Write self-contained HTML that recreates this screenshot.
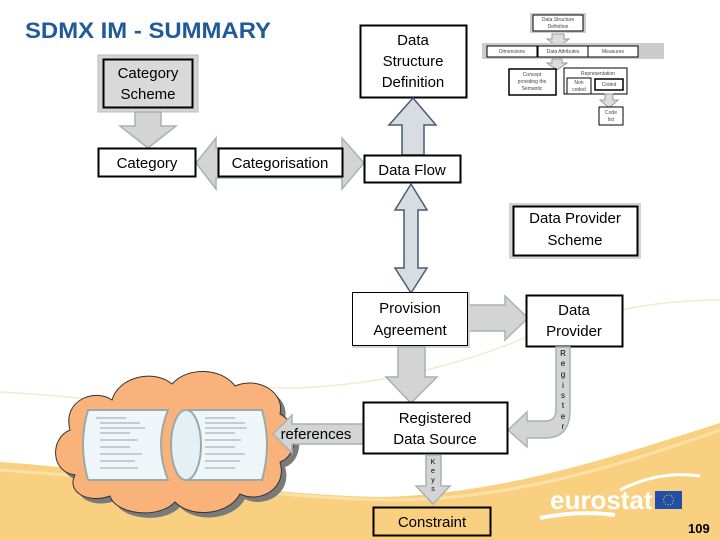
<!DOCTYPE html>
<html><head><meta charset="utf-8"><style>
body{margin:0;width:720px;height:540px;overflow:hidden;background:#fff}
svg{display:block}
text{font-family:"Liberation Sans","DejaVu Sans",sans-serif}
</style></head><body>
<svg width="720" height="540" viewBox="0 0 720 540">
<path d="M0,462 C120,470 260,495 380,497 C500,495 620,455 720,423 L720,540 L0,540 Z" fill="#f9cf80"/>
<path d="M0,470 C150,480 300,500 400,500 C520,498 630,462 720,430" fill="none" stroke="#fbe0a8" stroke-width="3"/>
<path d="M200,380 C300,400 420,380 520,340 C600,310 660,300 720,300" fill="none" stroke="#f5ead0" stroke-width="1.5"/>
<path d="M0,392 C150,400 300,430 420,450" fill="none" stroke="#f5ead0" stroke-width="1.5"/>

<text x="25" y="38" font-size="22" font-weight="bold" fill="#1f5a99" textLength="246" lengthAdjust="spacingAndGlyphs">SDMX IM - SUMMARY</text>

<rect x="360.5" y="25.5" width="106" height="72" fill="#fff" stroke="#000" stroke-width="2"/>
<text font-size="15" text-anchor="middle" fill="#000"><tspan x="413" y="45">Data</tspan><tspan x="413" y="66">Structure</tspan><tspan x="413" y="87">Definition</tspan></text>

<g font-size="5" fill="#444" text-anchor="middle">
<rect x="530" y="13" width="56" height="20" fill="#ccc"/><rect x="533" y="15" width="50" height="16" fill="#fff" stroke="#000"/>
<text x="558" y="21">Data Structure</text><text x="558" y="28">Definition</text>
<path d="M552,34 h12 v5 h5 l-11,8 -11,-8 h5z" fill="#ddd" stroke="#999"/>
<rect x="482" y="43" width="182" height="16" fill="#ccc"/>
<rect x="487" y="46" width="50" height="11" fill="#fff" stroke="#000"/><text x="512" y="53">Dimensions</text>
<rect x="538" y="46" width="50" height="11" fill="#fff" stroke="#000"/><text x="563" y="53">Data Attributes</text>
<rect x="588" y="46" width="50" height="11" fill="#fff" stroke="#000"/><text x="613" y="53">Measures</text>
<path d="M552,59 h10 v4 h5 l-10,7 -10,-7 h5z" fill="#ddd" stroke="#999"/>
<rect x="509" y="69" width="47" height="26" fill="#fff" stroke="#000" stroke-width="1.5"/>
<text x="532" y="76">Concept</text><text x="532" y="83">providing the</text><text x="532" y="90">Semantic</text>
<rect x="564" y="68" width="63" height="26" fill="#fff" stroke="#000"/>
<text x="598" y="75">Representation</text>
<rect x="567" y="78" width="24" height="16" fill="#fff" stroke="#000"/><text x="579" y="84">Non</text><text x="579" y="91">coded</text>
<rect x="595" y="79" width="28" height="11" fill="#fff" stroke="#000" stroke-width="1.5"/><text x="609" y="86">Coded</text>
<path d="M605,94 h8 v6 h5 l-9,8 -9,-8 h5z" fill="#ddd" stroke="#999"/>
<rect x="599" y="107" width="24" height="18" fill="#fff" stroke="#000"/><text x="611" y="114">Code</text><text x="611" y="121">list</text>
</g>

<rect x="98" y="55" width="100" height="57" fill="#d4d4d4" stroke="#bbb"/>
<rect x="103.5" y="59.5" width="89" height="48" fill="#d9d9d9" stroke="#000" stroke-width="2"/>
<text font-size="15" text-anchor="middle"><tspan x="148" y="78">Category</tspan><tspan x="148" y="99">Scheme</tspan></text>
<path d="M135,112 h26 v14 h15 l-28,22 -28,-22 h15z" fill="#d4d4d4" stroke="#a8b2b2" stroke-width="1.5"/>

<path d="M196,163 L216,138 V148 H342 V138 L364,163 L342,189 V178 H216 V189 Z" fill="#d4d4d4" stroke="#a8b2b2" stroke-width="1.5"/>
<rect x="98.5" y="148.5" width="97" height="28" fill="#fff" stroke="#000" stroke-width="2"/>
<text x="147" y="168" font-size="15" text-anchor="middle">Category</text>
<rect x="218.5" y="148.5" width="124" height="28" fill="#fff" stroke="#000" stroke-width="2"/>
<text x="280" y="168" font-size="15" text-anchor="middle">Categorisation</text>

<path d="M402,155 V125 H389 L413,98 L436,125 H424 V155 Z" fill="#d8dde2" stroke="#4a5a78" stroke-width="1.5"/>
<rect x="364.5" y="155.5" width="96" height="27" fill="#fff" stroke="#000" stroke-width="2"/>
<text x="412" y="175" font-size="15" text-anchor="middle">Data Flow</text>

<path d="M411,184 L427,210 H418 V268 H427 L411,293 L395,268 H404 V210 H395 Z" fill="#d8dde2" stroke="#4a5a78" stroke-width="1.5"/>

<rect x="509" y="203" width="132" height="56" fill="#d4d4d4"/>
<rect x="513.5" y="206.5" width="124" height="49" fill="#fff" stroke="#000" stroke-width="2"/>
<text font-size="15" text-anchor="middle"><tspan x="575" y="223">Data Provider</tspan><tspan x="575" y="245">Scheme</tspan></text>

<path d="M468,305 H505 V296 L528,318 L505,340 V331 H468 Z" fill="#d4d4d4" stroke="#a8b2b2" stroke-width="1.5"/>
<rect x="352" y="292" width="118" height="56" fill="#d4d4d4"/>
<rect x="352.5" y="292.5" width="115" height="53" fill="#fff" stroke="#000" stroke-width="1"/>
<text font-size="15" text-anchor="middle"><tspan x="410" y="313">Provision</tspan><tspan x="410" y="335">Agreement</tspan></text>
<rect x="526.5" y="295.5" width="96" height="51" fill="#fff" stroke="#000" stroke-width="2"/>
<text font-size="15" text-anchor="middle"><tspan x="574" y="315">Data</tspan><tspan x="574" y="336">Provider</tspan></text>

<path d="M398,347 H425 V377 H437 L411,403 L386,377 H398 Z" fill="#d4d4d4" stroke="#a8b2b2" stroke-width="1.5"/>

<path d="M556,347 H570 V410 Q570,438 545,438 H527 V447 L508,430 L527,412 V421 H545 Q556,421 556,410 Z" fill="#d4d4d4" stroke="#a8b2b2" stroke-width="1.5"/>
<g font-size="8" text-anchor="middle"><text x="563" y="356">R</text><text x="563" y="366">e</text><text x="563" y="377">g</text><text x="563" y="388">i</text><text x="563" y="398">s</text><text x="563" y="408">t</text><text x="563" y="419">e</text><text x="563" y="429">r</text></g>

<!-- cloud -->
<g>
<path d="M75,475 C50,472 50,438 70,430 C62,400 95,388 112,400 C118,378 152,368 172,384 C188,366 222,368 235,386 C258,376 285,392 280,414 C300,424 298,456 280,462 C288,488 260,504 240,494 C228,516 190,518 175,502 C158,520 115,514 110,496 C88,504 66,492 75,475 Z" fill="#7a7a7a" transform="translate(5,5)"/>
<path d="M75,475 C50,472 50,438 70,430 C62,400 95,388 112,400 C118,378 152,368 172,384 C188,366 222,368 235,386 C258,376 285,392 280,414 C300,424 298,456 280,462 C288,488 260,504 240,494 C228,516 190,518 175,502 C158,520 115,514 110,496 C88,504 66,492 75,475 Z" fill="#f9b27a" stroke="#333" stroke-width="1"/>
<path d="M88,410 H168 Q154,444 168,480 H88 Q78,444 88,410 Z" fill="#eef6fa" stroke="#9aa" stroke-width="2"/>
<path d="M186,410 H262 Q272,444 262,480 H186 Z" fill="#eef6fa" stroke="#9aa" stroke-width="2"/>
<ellipse cx="186" cy="445" rx="15" ry="35" fill="#e4f0f4" stroke="#9aa" stroke-width="2"/>
<g stroke="#888" stroke-width="0.7">
<path d="M96,418h30M100,423h40M100,428h45M100,433h30M100,440h38M100,447h30M100,454h42M100,461h35M100,468h38"/>
<path d="M205,418h30M205,423h40M205,428h42M205,433h30M205,440h36M205,447h30M205,454h40M205,461h35M205,468h30"/>
</g>
</g>

<path d="M273,434 L292,415 V424 H366 V444 H292 V453 Z" fill="#d4d4d4" stroke="#a8b2b2" stroke-width="1.5"/>
<text x="316" y="439" font-size="15" text-anchor="middle">references</text>

<rect x="363.5" y="402.5" width="144" height="51" fill="#fff" stroke="#000" stroke-width="2"/>
<text font-size="15" text-anchor="middle"><tspan x="435" y="423">Registered</tspan><tspan x="435" y="444">Data Source</tspan></text>

<path d="M426,455 H441 V486 H450 L433,504 L416,486 H426 Z" fill="#d4d4d4" stroke="#a8b2b2" stroke-width="1.5"/>
<g font-size="7" text-anchor="middle"><text x="433" y="464">K</text><text x="433" y="473">e</text><text x="433" y="482">y</text><text x="433" y="491">s</text></g>

<rect x="373.5" y="507.5" width="117" height="28" fill="#f9cf80" stroke="#000" stroke-width="2"/>
<text x="432" y="527" font-size="15" text-anchor="middle">Constraint</text>

<path d="M620,490 Q660,470 700,476" fill="none" stroke="#fff" stroke-width="3"/>
<path d="M540,518 Q580,510 615,515" fill="none" stroke="#fff" stroke-width="4"/>
<text x="550" y="509" font-size="26" font-weight="bold" fill="#fff">eurostat</text>
<rect x="655" y="491" width="27" height="18" fill="#1f4fa8"/>
<circle cx="668.5" cy="500" r="5" fill="none" stroke="#ffd700" stroke-width="1" stroke-dasharray="1 1.6"/>
<text x="688" y="533" font-size="13" font-weight="bold">109</text>
</svg>
</body></html>
